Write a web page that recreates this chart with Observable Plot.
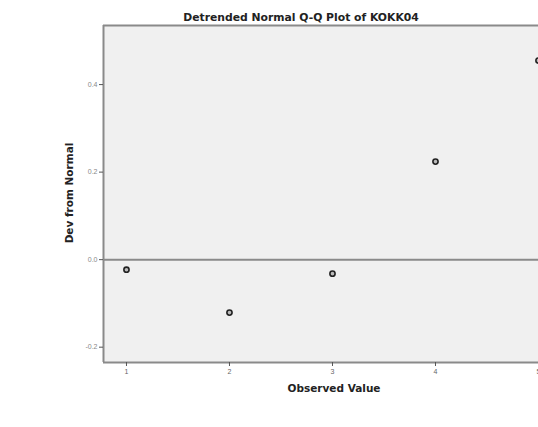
<!DOCTYPE html>
<html>
<head>
<meta charset="utf-8">
<script src="https://cdn.jsdelivr.net/npm/d3@7"></script>
<script src="https://cdn.jsdelivr.net/npm/@observablehq/plot@0.6"></script>
<style>
  html, body { margin: 0; padding: 0; background: #fff; overflow: hidden; }
  #chart svg { display: block; }
</style>
</head>
<body>
<div id="chart"></div>
<script>
const title = "Detrended Normal Q-Q Plot of KOKK04";
const xLabel = "Observed Value";
const yLabel = "Dev from Normal";
const observed = [1, 2, 3, 4, 5];
const deviation = [-0.023, -0.121, -0.032, 0.224, 0.455];
const xTicks = [1, 2, 3, 4, 5];
const yTicks = [-0.2, 0.0, 0.2, 0.4];
const xDomain = [0.777, 5.0];
const yDomain = [-0.235, 0.535];

const data = observed.map((x, i) => ({x, y: deviation[i]}));
const font = "'Liberation Sans', Arial, sans-serif";
const labelFont = "'DejaVu Sans', sans-serif";
const gray = "#8a8a8a";

const plot = Plot.plot({
  width: 538,
  height: 427,
  marginLeft: 103,
  marginRight: 0,
  marginTop: 25,
  marginBottom: 65,
  style: {fontFamily: font, background: "#fff", overflow: "hidden"},
  x: {domain: xDomain, ticks: xTicks},
  y: {domain: yDomain, ticks: yTicks},
  marks: [
    Plot.frame({fill: "#f0f0f0", stroke: null}),
    Plot.ruleY([yDomain[1]], {stroke: gray, strokeWidth: 2}),
    Plot.ruleY([yDomain[0]], {stroke: gray, strokeWidth: 2}),
    Plot.ruleX([xDomain[0]], {stroke: gray, strokeWidth: 2}),
    Plot.ruleY([0], {stroke: gray, strokeWidth: 2}),
    Plot.axisX({ticks: xTicks, tickSize: 4, tickPadding: 3, fontSize: 7, color: "#666", stroke: "#555", label: null, tickFormat: d => String(d)}),
    Plot.axisY({ticks: yTicks, tickSize: 4, tickPadding: 2, fontSize: 7, color: "#888", stroke: "#555", label: null, tickFormat: d => d.toFixed(1)}),
    Plot.dot(data, {x: "x", y: "y", r: 2.6, stroke: "#222", strokeWidth: 1.6, fill: "#bbb"}),
    Plot.text([title], {frameAnchor: "top", textAnchor: "middle", dy: -12, dx: -20, fontSize: 10.8, fontWeight: "bold", fill: "#222", fontFamily: labelFont}),
    Plot.text([xLabel], {frameAnchor: "bottom", textAnchor: "middle", dy: 29, dx: 13, fontSize: 10.5, fontWeight: "bold", fill: "#222", fontFamily: labelFont}),
    Plot.text([yLabel], {frameAnchor: "left", textAnchor: "middle", dx: -34, dy: -1, rotate: -90, fontSize: 10.5, fontWeight: "bold", fill: "#222", fontFamily: labelFont})
  ]
});
document.getElementById("chart").appendChild(plot);
</script>
</body>
</html>
